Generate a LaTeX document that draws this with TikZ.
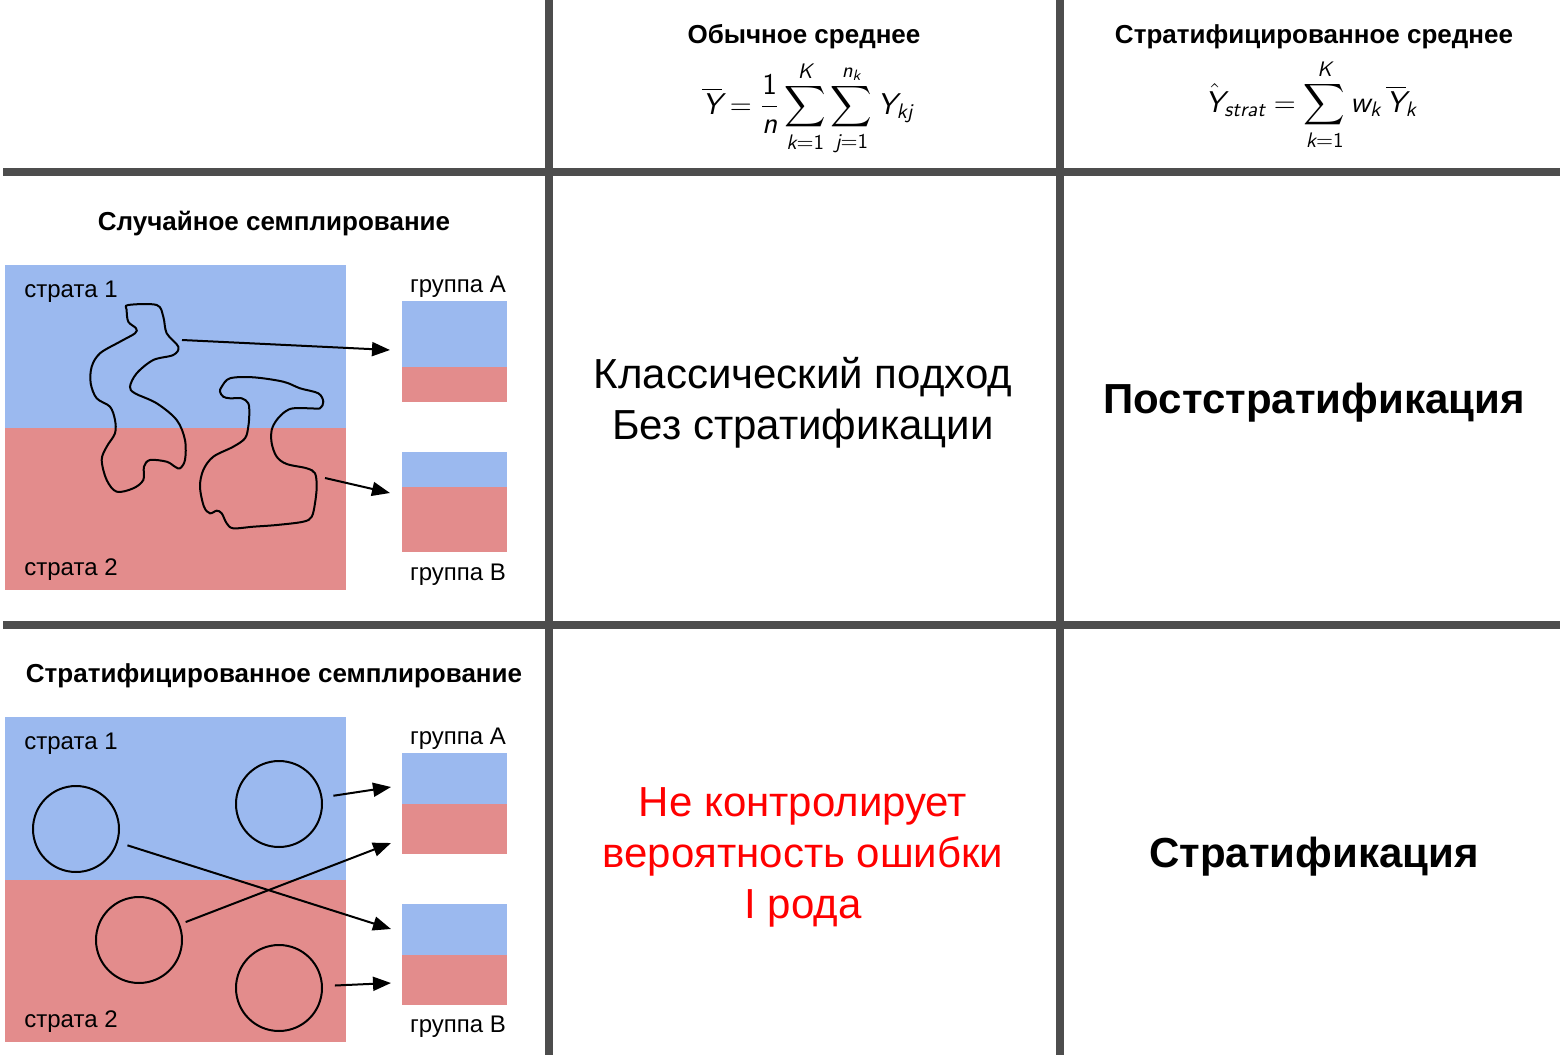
\documentclass[tikz,border=0pt]{standalone}
\usepackage{amsmath}
\usepackage{fontspec}
\setmainfont{Liberation Sans}
\usetikzlibrary{arrows.meta,calc}
\definecolor{STblue}{HTML}{9BB9EF}
\definecolor{STred}{HTML}{E38C8C}
\definecolor{STgrid}{HTML}{4D4D4D}
\definecolor{STalert}{HTML}{FF0000}
\tikzset{
  gridline/.style={line width=4pt, draw=STgrid},
  headtxt/.style={font=\fontsize{13}{15}\selectfont\bfseries, inner sep=0pt, anchor=base},
  lbltxt/.style={font=\fontsize{12}{14}\selectfont, inner sep=0pt},
  bigtxt/.style={font=\fontsize{21}{25.5}\selectfont, align=center},
  bigbold/.style={bigtxt, font=\fontsize{21}{25.5}\selectfont\bfseries},
  mathtxt/.style={font=\fontsize{15}{18}\selectfont, inner sep=0pt, anchor=base},
  sampcirc/.style={circle, draw, line width=1pt, minimum size=43pt, inner sep=0pt},
  samparr/.style={-{Triangle[length=9pt,width=7pt]}, line width=1pt, shorten <=5pt},
  blob/.style={line width=1pt}
}
\newcommand{\mv}[1]{\text{\sffamily\itshape #1}}
\newcommand{\mn}[1]{\text{\sffamily #1}}

\begin{document}
\begin{tikzpicture}[x=0.5pt, y=-0.5pt]
\useasboundingbox (0,0) rectangle (1560,1055);

% strata and their labels
\foreach \dy/\ttl/\nm in {0/{Случайное семплирование}/rnd, 452/{Стратифицированное семплирование}/str} {
  \fill[STblue] (5,265+\dy) rectangle (346,428+\dy);
  \fill[STred] (5,428+\dy) rectangle (346,590+\dy);
  \node[headtxt] (\nm title) at (274,230+\dy) {\ttl};
  \node[lbltxt, anchor=base west] (\nm s1) at (24,297+\dy) {страта 1};
  \node[lbltxt, anchor=base west] (\nm s2) at (24,575+\dy) {страта 2};
  \node[lbltxt, anchor=base] (\nm gA) at (458,292+\dy) {группа А};
  \node[lbltxt, anchor=base] (\nm gB) at (458,580+\dy) {группа В};
}

% groups, random sampling
\fill[STblue] (402,301) rectangle (507,367);
\fill[STred] (402,367) rectangle (507,402);
\fill[STblue] (402,452) rectangle (507,487);
\fill[STred] (402,487) rectangle (507,552);
% groups, stratified sampling
\fill[STblue] (402,753) rectangle (507,804);
\fill[STred] (402,804) rectangle (507,854);
\fill[STblue] (402,904) rectangle (507,955);
\fill[STred] (402,955) rectangle (507,1005);

% grid
\draw[gridline] (3,172) -- (1560,172);
\draw[gridline] (3,625) -- (1560,625);
\draw[gridline] (549,0) -- (549,1055);
\draw[gridline] (1060,0) -- (1060,1055);

% headers
\node[headtxt] (hmean) at (804,43) {Обычное среднее};
\node[mathtxt] (fmean) at (808,114) {$\displaystyle \overline{\mv{Y}} = \frac{\mn{1}}{\mv{n}} \sum_{\mv{k}=\mn{1}}^{\mv{K}} \sum_{\mv{j}=\mn{1}}^{\mv{n}_{\mv{k}}} \mv{Y}_{\mv{kj}}$};
\node[headtxt] (hstrat) at (1314,43) {Стратифицированное среднее};
\node[mathtxt] (fstrat) at (1311,112) {$\displaystyle \hat{\mv{Y}}_{\mv{strat}} = \sum_{\mv{k}=\mn{1}}^{\mv{K}} \mv{w}_{\mv{k}}\, \overline{\mv{Y}}_{\mv{k}}$};

% cells
\node[bigtxt] (classic) at (803,403) {Классический подход\\Без стратификации};
\node[bigbold] (post) at (1314,403) {Постстратификация};
\node[bigtxt, text=STalert] (alert) at (803,857) {Не контролирует\\вероятность ошибки\\I рода};
\node[bigbold] (strat) at (1314,857) {Стратификация};

% random samples
\draw[blob] plot[smooth cycle, tension=0.55] coordinates {
  (128.3,305) (156.7,305) (163.3,316.7) (166.7,333.3) (178.3,346.7) (173.3,355)
  (153.3,360) (136.7,373.3) (130,386.7) (135,393.3) (156.7,403.3) (176.7,420)
  (185,440) (185,460) (180,468.3) (175,466.7) (166.7,461.7) (150,460)
  (144,466.7) (143.3,480) (133.3,488.3) (116.7,491.7) (106.7,480) (101.7,460)
  (106.7,446.7) (115,433.3) (115,420) (110,406.7) (96.7,398.3) (90.7,383.3)
  (91.7,366.7) (100,353.3) (120,341.7) (135,333.3) (136,328.3) (128.3,321.7)
  (126.7,310)};
\draw[blob] plot[smooth cycle, tension=0.55] coordinates {
  (221.7,386.7) (230,378.3) (253.3,377.3) (283.3,381.7) (300,388.3) (318.3,393.3)
  (323.3,401.7) (320,408.3) (310,408.3) (293.3,408.3) (285,411.7) (276.7,420)
  (271.7,430) (271.7,443.3) (276.7,456.7) (286.7,464) (306.7,468.3) (315,473.3)
  (316.7,486.7) (315,503.3) (311.7,516.7) (303.3,521.7) (276.7,525) (253.3,526.7)
  (233.3,528.3) (226.7,523.3) (221.7,513.3) (216.7,510.7) (210,513.3) (204,506.7)
  (200,486.7) (203.3,470) (213.3,456.7) (233.3,446.7) (245,438.3) (248.3,426.7)
  (249.3,413.3) (248.3,403.3) (241.7,398.3) (230,398.3) (223.3,396.7) (220,391.7)};
\coordinate (o1) at (182,340);
\coordinate (o2) at (325,478);
\coordinate (ra) at (390,350);
\coordinate (rb) at (390,493);
\draw[samparr, shorten <=0pt] (o1) -- (ra);
\draw[samparr, shorten <=0pt] (o2) -- (rb);

% stratified samples
\node[sampcirc] (c1) at (76,829) {};
\node[sampcirc] (c2) at (279,804) {};
\node[sampcirc] (c3) at (139,940) {};
\node[sampcirc] (c4) at (279,988) {};
\coordinate (sa1) at (391,787);
\coordinate (sa2) at (391,843);
\coordinate (sb1) at (391,929);
\coordinate (sb2) at (391,983);
\draw[samparr, shorten <=5.5pt] (c2) -- (sa1);
\draw[samparr, shorten <=3pt] (c3) -- (sa2);
\draw[samparr] (c1) -- (sb1);
\draw[samparr, shorten <=6pt] (c4) -- (sb2);
\end{tikzpicture}
\end{document}
